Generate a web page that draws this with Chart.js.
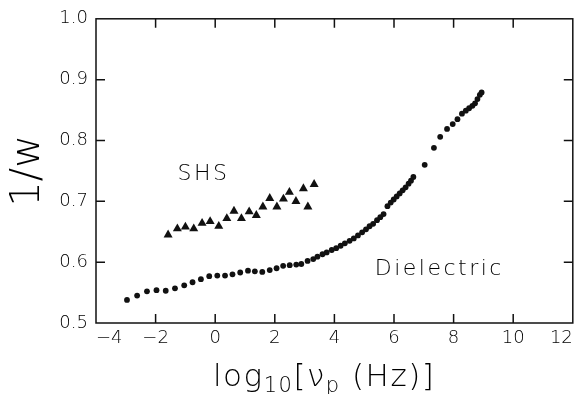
<!DOCTYPE html>
<html>
<head>
<meta charset="utf-8">
<script src="https://cdn.jsdelivr.net/npm/chart.js@4.4.0/dist/chart.umd.min.js"></script>
<style>
  html, body { margin: 0; padding: 0; background: #fff; overflow: hidden; }
  #wrap { position: relative; width: 578px; height: 394px; }
</style>
</head>
<body>
<div id="wrap"><canvas id="myChart"></canvas></div>
<script>
// Dielectric data: log10(frequency) vs 1/w
const dielectricX = [
  -2.96, -2.62, -2.29, -1.97, -1.66, -1.35, -1.04, -0.76, -0.48, -0.20,
  0.07, 0.33, 0.58, 0.84, 1.10, 1.33, 1.58, 1.83, 2.06, 2.28,
  2.50, 2.72, 2.89, 3.10, 3.29, 3.43, 3.60, 3.74, 3.91, 4.06,
  4.21, 4.35, 4.51, 4.65, 4.79, 4.93, 5.06, 5.18, 5.30, 5.43,
  5.54, 5.65, 5.78, 5.89, 5.99, 6.09, 6.19, 6.29, 6.39, 6.49,
  6.57, 6.65, 7.03, 7.34, 7.55, 7.78, 7.97, 8.13, 8.28, 8.41,
  8.52, 8.63, 8.72, 8.80, 8.88, 8.94
];
const dielectricY = [
  0.538, 0.545, 0.552, 0.554, 0.553, 0.557, 0.562, 0.567, 0.572, 0.577,
  0.578, 0.578, 0.580, 0.583, 0.586, 0.585, 0.584, 0.587, 0.590, 0.594,
  0.595, 0.596, 0.597, 0.602, 0.605, 0.609, 0.613, 0.616, 0.620, 0.623,
  0.627, 0.631, 0.635, 0.639, 0.644, 0.649, 0.654, 0.659, 0.663, 0.669,
  0.674, 0.679, 0.692, 0.698, 0.703, 0.708, 0.713, 0.718, 0.723, 0.729,
  0.734, 0.740, 0.760, 0.788, 0.806, 0.819, 0.827, 0.835, 0.844, 0.849,
  0.853, 0.857, 0.861, 0.868, 0.875, 0.879
];

// SHS data
const shsX = [
  -1.58, -1.27, -1.00, -0.72, -0.44, -0.17, 0.12, 0.39, 0.63, 0.88,
  1.14, 1.38, 1.60, 1.83, 2.07, 2.29, 2.49, 2.71, 2.96, 3.11, 3.32
];
const shsY = [
  0.645, 0.655, 0.658, 0.655, 0.664, 0.667, 0.659, 0.672, 0.684, 0.672,
  0.683, 0.677, 0.691, 0.705, 0.691, 0.704, 0.715, 0.700, 0.721, 0.691, 0.728
];

// text labels inside the plot
const noteText = ['SHS', 'Dielectric'];
const noteX = [-0.39, 7.52];
const noteY = [0.744, 0.588];

// x axis title pieces: [text, subscript?]
const xTitleParts = [['log', false], ['10', true], ['[', false], ['\u03bd', false], ['p', true], [' (Hz)]', false]];

const ink = '#111';
const textInk = '#000';
const fontFamily = "'DejaVu Sans', 'Liberation Sans', sans-serif";
const weight = 200;

const toPoints = (xs, ys) => xs.map((x, i) => ({ x: x, y: ys[i] }));

// frame on all four sides with inward ticks, in-plot labels and x title
const framePlugin = {
  id: 'frame',
  afterDraw(chart) {
    const { ctx, chartArea: a } = chart;
    const xs = chart.scales.x;
    const ys = chart.scales.y;
    const tick = 9;
    ctx.save();
    ctx.strokeStyle = ink;
    ctx.lineWidth = 1.5;
    ctx.strokeRect(a.left, a.top, a.right - a.left, a.bottom - a.top);
    ctx.beginPath();
    xs.ticks.forEach((t) => {
      const px = xs.getPixelForValue(t.value);
      if (px <= a.left + 1 || px >= a.right - 1) return;
      ctx.moveTo(px, a.bottom);
      ctx.lineTo(px, a.bottom - tick);
      ctx.moveTo(px, a.top);
      ctx.lineTo(px, a.top + tick);
    });
    ys.ticks.forEach((t) => {
      const py = ys.getPixelForValue(t.value);
      if (py >= a.bottom - 1 || py <= a.top + 1) return;
      ctx.moveTo(a.left, py);
      ctx.lineTo(a.left + tick, py);
      ctx.moveTo(a.right, py);
      ctx.lineTo(a.right - tick, py);
    });
    ctx.stroke();

    ctx.fillStyle = textInk;
    ctx.font = weight + ' 22px ' + fontFamily;
    ctx.letterSpacing = '2.5px';
    ctx.textAlign = 'center';
    ctx.textBaseline = 'middle';
    noteText.forEach((txt, i) => {
      ctx.fillText(txt, xs.getPixelForValue(noteX[i]), ys.getPixelForValue(noteY[i]));
    });

    // x axis title with real subscripts
    ctx.textAlign = 'left';
    ctx.textBaseline = 'alphabetic';
    ctx.letterSpacing = '1.5px';
    let cx = 213;
    const base = 386;
    xTitleParts.forEach(([txt, sub]) => {
      ctx.font = weight + (sub ? ' 21px ' : ' 31px ') + fontFamily;
      ctx.fillText(txt, cx, sub ? base + 6 : base);
      cx += ctx.measureText(txt).width;
    });
    ctx.restore();
  },
};

const canvas = document.getElementById('myChart');

new Chart(canvas, {
  type: 'scatter',
  data: {
    datasets: [
      {
        label: 'Dielectric',
        data: toPoints(dielectricX, dielectricY),
        pointStyle: 'circle',
        pointRadius: 2.9,
        backgroundColor: ink,
        borderWidth: 0,
      },
      {
        label: 'SHS',
        data: toPoints(shsX, shsY),
        pointStyle: 'triangle',
        pointRadius: 5.2,
        backgroundColor: ink,
        borderWidth: 0,
      },
    ],
  },
  options: {
    responsive: true,
    maintainAspectRatio: false,
    animation: false,
    devicePixelRatio: 1,
    layout: { padding: { top: 18, right: 1, left: 0, bottom: 0 } },
    plugins: {
      legend: { display: false },
      tooltip: { enabled: false },
    },
    scales: {
      x: {
        type: 'linear',
        min: -4,
        max: 12,
        grid: { display: false, drawTicks: false },
        border: { display: false },
        ticks: {
          stepSize: 2,
          align: 'inner',
          padding: 5,
          color: textInk,
          font: { size: 18, family: fontFamily, weight: weight },
          callback: (v) => (v < 0 ? '\u2212' + Math.abs(v) : String(v)),
        },
        title: { display: false },
        afterFit: (scale) => { scale.height = 71; },
      },
      y: {
        min: 0.5,
        max: 1.0,
        grid: { display: false, drawTicks: false },
        border: { display: false },
        ticks: {
          stepSize: 0.1,
          padding: 8,
          color: textInk,
          font: { size: 18, family: fontFamily, weight: weight },
          callback: (v) => Number(v).toFixed(1),
        },
        title: {
          display: true,
          text: '1/w',
          color: textInk,
          font: { size: 40, family: fontFamily, weight: weight, lineHeight: 1.2 },
          padding: { top: 5, bottom: 0 },
        },
        afterFit: (scale) => { scale.width = 96; },
      },
    },
  },
  plugins: [framePlugin],
});
</script>
</body>
</html>
